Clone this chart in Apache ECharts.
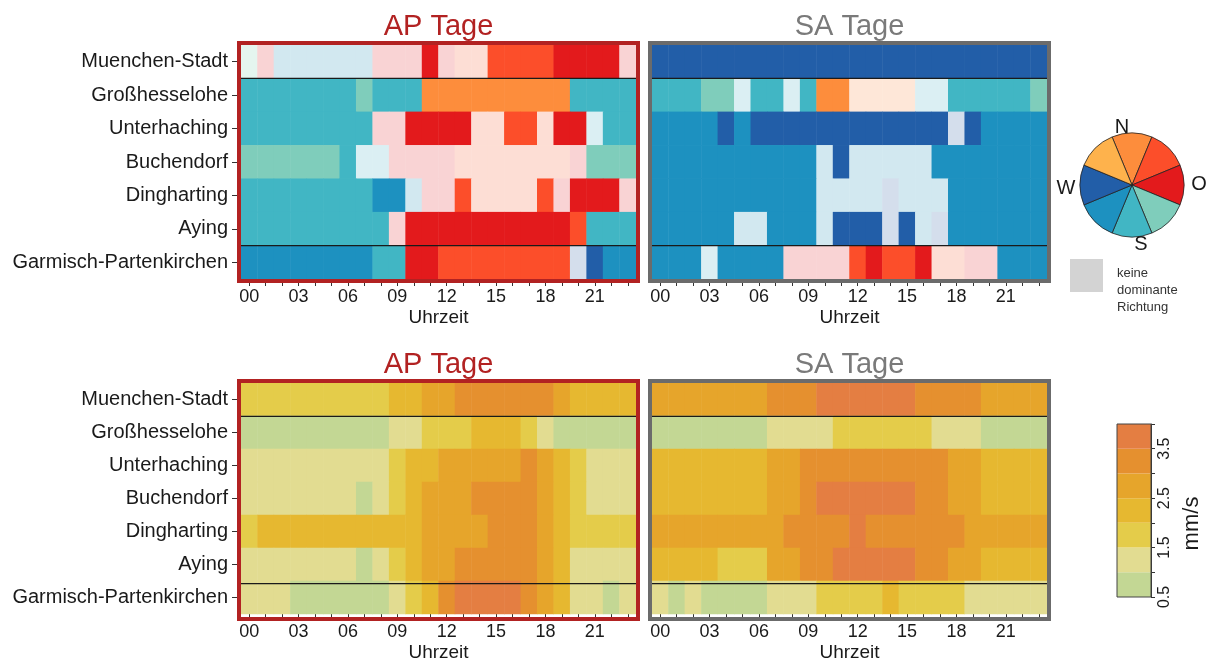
<!DOCTYPE html>
<html>
<head>
<meta charset="utf-8">
<script src="https://cdn.jsdelivr.net/npm/echarts@6/dist/echarts.min.js"></script>
<style>
  html, body { margin: 0; background: #fff; }
  #chart { width: 1206px; height: 663px; }
</style>
</head>
<body>
<div id="chart"></div>
<script>
// Stationen von oben nach unten
const stations = ['Muenchen-Stadt', 'Großhesselohe', 'Unterhaching', 'Buchendorf', 'Dingharting', 'Aying', 'Garmisch-Partenkirchen']
const hours = ['00', '01', '02', '03', '04', '05', '06', '07', '08', '09', '10', '11',
  '12', '13', '14', '15', '16', '17', '18', '19', '20', '21', '22', '23']

// Windrichtung: Großbuchstaben = dominante Richtung, klein = schwächere Ausprägung
const directionCodes = ['N', 'NO', 'O', 'SO', 'S', 'SW', 'W', 'NW', 'n', 'no', 'o', 'so', 's', 'sw', 'w']
const directionColors = ['#fd8d3c', '#fc4e2a', '#e31a1c', '#7fcdbb', '#41b6c4', '#1d91c0', '#225ea8', '#feb24c',
  '#fee7d8', '#fdded5', '#f9d3d4', '#e5f5ef', '#dbeff3', '#d2e8f0', '#d4deec']
const compassSectors = ['N', 'NO', 'O', 'SO', 'S', 'SW', 'W', 'NW']

const apDirection = [
  ['so', 'o', 'sw', 'sw', 'sw', 'sw', 'sw', 'sw', 'o', 'o', 'o', 'O', 'o', 'no', 'no', 'NO', 'NO', 'NO', 'NO', 'O', 'O', 'O', 'O', 'o'],
  ['S', 'S', 'S', 'S', 'S', 'S', 'S', 'SO', 'S', 'S', 'S', 'N', 'N', 'N', 'N', 'N', 'N', 'N', 'N', 'N', 'S', 'S', 'S', 'S'],
  ['S', 'S', 'S', 'S', 'S', 'S', 'S', 'S', 'o', 'o', 'O', 'O', 'O', 'O', 'no', 'no', 'NO', 'NO', 'no', 'O', 'O', 's', 'S', 'S'],
  ['SO', 'SO', 'SO', 'SO', 'SO', 'SO', 'S', 's', 's', 'o', 'o', 'o', 'o', 'no', 'no', 'no', 'no', 'no', 'no', 'no', 'o', 'SO', 'SO', 'SO'],
  ['S', 'S', 'S', 'S', 'S', 'S', 'S', 'S', 'SW', 'SW', 'sw', 'o', 'o', 'NO', 'no', 'no', 'no', 'no', 'NO', 'o', 'O', 'O', 'O', 'o'],
  ['S', 'S', 'S', 'S', 'S', 'S', 'S', 'S', 'S', 'o', 'O', 'O', 'O', 'O', 'O', 'O', 'O', 'O', 'O', 'O', 'NO', 'S', 'S', 'S'],
  ['SW', 'SW', 'SW', 'SW', 'SW', 'SW', 'SW', 'SW', 'S', 'S', 'O', 'O', 'NO', 'NO', 'NO', 'NO', 'NO', 'NO', 'NO', 'NO', 'w', 'W', 'SW', 'SW']
]
const saDirection = [
  ['W', 'W', 'W', 'W', 'W', 'W', 'W', 'W', 'W', 'W', 'W', 'W', 'W', 'W', 'W', 'W', 'W', 'W', 'W', 'W', 'W', 'W', 'W', 'W'],
  ['S', 'S', 'S', 'SO', 'SO', 's', 'S', 'S', 's', 'S', 'N', 'N', 'n', 'n', 'n', 'n', 's', 's', 'S', 'S', 'S', 'S', 'S', 'SO'],
  ['SW', 'SW', 'SW', 'SW', 'W', 'SW', 'W', 'W', 'W', 'W', 'W', 'W', 'W', 'W', 'W', 'W', 'W', 'W', 'w', 'W', 'SW', 'SW', 'SW', 'SW'],
  ['SW', 'SW', 'SW', 'SW', 'SW', 'SW', 'SW', 'SW', 'SW', 'SW', 'sw', 'W', 'sw', 'sw', 'sw', 'sw', 'sw', 'SW', 'SW', 'SW', 'SW', 'SW', 'SW', 'SW'],
  ['SW', 'SW', 'SW', 'SW', 'SW', 'SW', 'SW', 'SW', 'SW', 'SW', 'sw', 'sw', 'sw', 'sw', 'w', 'sw', 'sw', 'sw', 'SW', 'SW', 'SW', 'SW', 'SW', 'SW'],
  ['SW', 'SW', 'SW', 'SW', 'SW', 'sw', 'sw', 'SW', 'SW', 'SW', 'sw', 'W', 'W', 'W', 'w', 'W', 'sw', 'w', 'SW', 'SW', 'SW', 'SW', 'SW', 'SW'],
  ['SW', 'SW', 'SW', 's', 'SW', 'SW', 'SW', 'SW', 'o', 'o', 'o', 'o', 'NO', 'O', 'NO', 'NO', 'O', 'no', 'no', 'o', 'o', 'SW', 'SW', 'SW']
]

// Windgeschwindigkeit in mm/s (Klassenmitte)
const apSpeed = [
  [1.75, 1.75, 1.75, 1.75, 1.75, 1.75, 1.75, 1.75, 1.75, 2.25, 2.25, 2.75, 2.75, 3.25, 3.25, 3.25, 3.25, 3.25, 3.25, 2.75, 2.25, 2.25, 2.25, 2.25],
  [0.75, 0.75, 0.75, 0.75, 0.75, 0.75, 0.75, 0.75, 0.75, 1.25, 1.25, 1.75, 1.75, 1.75, 2.25, 2.25, 2.25, 1.75, 1.25, 0.75, 0.75, 0.75, 0.75, 0.75],
  [1.25, 1.25, 1.25, 1.25, 1.25, 1.25, 1.25, 1.25, 1.25, 1.75, 2.25, 2.25, 2.75, 2.75, 2.75, 2.75, 2.75, 3.25, 2.75, 2.25, 1.75, 1.25, 1.25, 1.25],
  [1.25, 1.25, 1.25, 1.25, 1.25, 1.25, 1.25, 0.75, 1.25, 1.75, 2.25, 2.75, 2.75, 2.75, 3.25, 3.25, 3.25, 3.25, 2.75, 2.25, 1.75, 1.25, 1.25, 1.25],
  [1.75, 2.25, 2.25, 2.25, 2.25, 2.25, 2.25, 2.25, 2.25, 2.25, 2.25, 2.75, 2.75, 2.75, 2.75, 3.25, 3.25, 3.25, 2.75, 2.25, 1.75, 1.75, 1.75, 1.75],
  [1.25, 1.25, 1.25, 1.25, 1.25, 1.25, 1.25, 0.75, 1.25, 1.75, 2.25, 2.75, 2.75, 3.25, 3.25, 3.25, 3.25, 3.25, 2.75, 2.25, 1.25, 1.25, 1.25, 1.25],
  [1.25, 1.25, 1.25, 0.75, 0.75, 0.75, 0.75, 0.75, 0.75, 1.25, 1.75, 2.25, 3.25, 3.75, 3.75, 3.75, 3.75, 3.25, 2.75, 2.25, 1.25, 1.25, 0.75, 1.25]
]
const saSpeed = [
  [2.75, 2.75, 2.75, 2.75, 2.75, 2.75, 2.75, 3.25, 3.25, 3.25, 3.75, 3.75, 3.75, 3.75, 3.75, 3.75, 3.25, 3.25, 3.25, 3.25, 2.75, 2.75, 2.75, 2.75],
  [0.75, 0.75, 0.75, 0.75, 0.75, 0.75, 0.75, 1.25, 1.25, 1.25, 1.25, 1.75, 1.75, 1.75, 1.75, 1.75, 1.75, 1.25, 1.25, 1.25, 0.75, 0.75, 0.75, 0.75],
  [2.25, 2.25, 2.25, 2.25, 2.25, 2.25, 2.25, 2.75, 2.75, 3.25, 3.25, 3.25, 3.25, 3.25, 3.25, 3.25, 3.25, 3.25, 2.75, 2.75, 2.25, 2.25, 2.25, 2.25],
  [2.25, 2.25, 2.25, 2.25, 2.25, 2.25, 2.25, 2.75, 2.75, 3.25, 3.75, 3.75, 3.75, 3.75, 3.75, 3.75, 3.25, 3.25, 2.75, 2.75, 2.25, 2.25, 2.25, 2.25],
  [2.75, 2.75, 2.75, 2.75, 2.75, 2.75, 2.75, 2.75, 3.25, 3.25, 3.25, 3.25, 3.75, 3.25, 3.25, 3.25, 3.25, 3.25, 3.25, 2.75, 2.75, 2.75, 2.75, 2.75],
  [2.25, 2.25, 2.25, 2.25, 1.75, 1.75, 1.75, 2.75, 2.75, 3.25, 3.25, 3.75, 3.75, 3.75, 3.75, 3.75, 3.25, 3.25, 2.75, 2.75, 2.25, 2.25, 2.25, 2.25],
  [1.25, 0.75, 1.25, 0.75, 0.75, 0.75, 0.75, 1.25, 1.25, 1.25, 1.75, 1.75, 1.75, 1.75, 2.25, 1.75, 1.75, 1.75, 1.75, 1.25, 1.25, 1.25, 1.25, 1.25]
]
const speedBreaks = [0.5, 1.0, 1.5, 2.0, 2.5, 3.0, 3.5, 4.0]
const speedColors = ['#c3d794', '#e2dc91', '#e4cc4a', '#e6b830', '#e6a52b', '#e5902f', '#e47e42']
const speedTickLabels = [0.5, 1.5, 2.5, 3.5]

// Layout
const FONT = 'Liberation Sans, Arial, Helvetica, sans-serif'
const TEXT = '#1a1a1a'
const panels = [
  { title: 'AP Tage', color: '#b22222', frame: '#b22222', left: 241, top: 45 },
  { title: 'SA Tage', color: '#7a7a7a', frame: '#6b6b6b', left: 652, top: 45 },
  { title: 'AP Tage', color: '#b22222', frame: '#b22222', left: 241, top: 383 },
  { title: 'SA Tage', color: '#7a7a7a', frame: '#6b6b6b', left: 652, top: 383 }
]
const PW = 395
const PH = 234
const pie = { cx: 1132, cy: 185, r: 52 }

const toCells = (rows, fn) => {
  const out = []
  rows.forEach((row, y) => row.forEach((v, x) => out.push([x, y, fn(v)])))
  return out
}
const dirIndex = code => directionCodes.indexOf(code)
const panelData = [
  toCells(apDirection, dirIndex),
  toCells(saDirection, dirIndex),
  toCells(apSpeed, v => v),
  toCells(saSpeed, v => v)
]

const chart = echarts.init(document.getElementById('chart'), null, { renderer: 'canvas' })

const grid = panels.map(p => ({ left: p.left, top: p.top, width: PW, height: PH }))
grid.push({ left: 1117, top: 424, width: 34, height: 173 })

const xAxis = panels.map((p, i) => ({
  type: 'category',
  gridIndex: i,
  data: hours,
  boundaryGap: true,
  axisLine: { show: false },
  axisTick: { show: true, interval: 0, alignWithLabel: true, length: 7, lineStyle: { color: '#333' } },
  axisLabel: { interval: 2, margin: 9, fontSize: 18, color: TEXT, fontFamily: FONT },
  splitLine: { show: false },
  name: 'Uhrzeit',
  nameLocation: 'middle',
  nameGap: 29,
  nameTextStyle: { fontSize: 19, color: TEXT, fontFamily: FONT }
}))
xAxis.push({ type: 'category', gridIndex: 4, data: ['mm/s'], show: false })

const yAxis = panels.map((p, i) => ({
  type: 'category',
  gridIndex: i,
  data: stations,
  inverse: true,
  axisLine: { show: false },
  axisTick: { show: i % 2 === 0, alignWithLabel: true, length: 9, lineStyle: { color: '#333' } },
  axisLabel: { show: i % 2 === 0, margin: 13, fontSize: 20, color: TEXT, fontFamily: FONT },
  splitLine: { show: false }
}))
yAxis.push({
  type: 'value',
  gridIndex: 4,
  position: 'right',
  min: 0.5,
  max: 4,
  interval: 0.5,
  axisLine: { show: true, lineStyle: { color: '#333', width: 1 } },
  axisTick: { show: true, length: 4, lineStyle: { color: '#333' } },
  splitLine: { show: false },
  axisLabel: {
    rotate: 90,
    margin: 6,
    fontSize: 16,
    color: TEXT,
    fontFamily: FONT,
    formatter: v => speedTickLabels.includes(v) ? v.toFixed(1) : ''
  },
  name: 'mm/s',
  nameLocation: 'middle',
  nameRotate: 90,
  nameGap: 30,
  nameTextStyle: { fontSize: 22, color: TEXT, fontFamily: FONT, padding: [0, 26, 0, 0] }
})

const series = panelData.map((data, i) => ({
  type: 'heatmap',
  xAxisIndex: i,
  yAxisIndex: i,
  data: data,
  itemStyle: { borderWidth: 0 },
  emphasis: { disabled: true },
  silent: true
}))

// Farbskala als gestapelte Balken
series.push({
  type: 'bar', xAxisIndex: 4, yAxisIndex: 4, stack: 'scale', data: [speedBreaks[0]],
  barWidth: '100%', itemStyle: { color: 'rgba(0,0,0,0)' }, silent: true
})
speedColors.forEach((c, k) => {
  series.push({
    type: 'bar', xAxisIndex: 4, yAxisIndex: 4, stack: 'scale',
    data: [+(speedBreaks[k + 1] - speedBreaks[k]).toFixed(2)],
    barWidth: '100%', itemStyle: { color: c }, silent: true
  })
})

// Windrose
series.push({
  type: 'pie',
  center: [pie.cx, pie.cy],
  radius: pie.r,
  startAngle: 112.5,
  clockwise: true,
  silent: true,
  label: { show: false },
  labelLine: { show: false },
  itemStyle: { borderColor: '#222', borderWidth: 0.8 },
  data: compassSectors.map(code => ({
    name: code, value: 1, itemStyle: { color: directionColors[dirIndex(code)] }
  }))
})

const graphic = []
panels.forEach(p => {
  graphic.push({
    type: 'rect', z: 100, silent: true,
    shape: { x: p.left - 2, y: p.top - 2, width: PW + 4, height: PH + 4 },
    style: { fill: 'none', stroke: p.frame, lineWidth: 4 }
  })
  const rowH = PH / stations.length
  ;[1, 6].forEach(r => {
    graphic.push({
      type: 'line', z: 99, silent: true,
      shape: { x1: p.left - 3, y1: p.top + rowH * r, x2: p.left + PW + 3, y2: p.top + rowH * r },
      style: { stroke: '#1a1a1a', lineWidth: 1.2 }
    })
  })
})
const compassText = [
  { t: 'N', x: 1122, y: 127 },
  { t: 'O', x: 1199, y: 184 },
  { t: 'S', x: 1141, y: 244 },
  { t: 'W', x: 1066, y: 188 }
]
compassText.forEach(c => {
  graphic.push({
    type: 'text', z: 100, silent: true, x: c.x, y: c.y,
    style: { text: c.t, fontSize: 20, fill: TEXT, fontFamily: FONT, align: 'center', verticalAlign: 'middle' }
  })
})
graphic.push({
  type: 'rect', silent: true,
  shape: { x: 1070, y: 259, width: 33, height: 33 },
  style: { fill: '#d3d3d3' }
})
graphic.push({
  type: 'text', silent: true, x: 1117, y: 265,
  style: { text: 'keine\ndominante\nRichtung', fontSize: 13, lineHeight: 17, fill: '#333', fontFamily: FONT }
})
graphic.push({
  type: 'rect', z: 100, silent: true,
  shape: { x: 1117, y: 424, width: 34, height: 173 },
  style: { fill: 'none', stroke: '#444', lineWidth: 1 }
})

const option = {
  backgroundColor: '#fff',
  animation: false,
  textStyle: { fontFamily: FONT },
  title: panels.map(p => ({
    text: p.title,
    left: p.left + PW / 2,
    top: p.top - 33,
    textAlign: 'center',
    padding: 0,
    textStyle: { fontSize: 29, fontWeight: 'normal', color: p.color, fontFamily: FONT }
  })),
  grid: grid,
  xAxis: xAxis,
  yAxis: yAxis,
  visualMap: [
    {
      type: 'piecewise', show: false, seriesIndex: [0, 1], dimension: 2,
      pieces: directionColors.map((c, k) => ({ value: k, color: c }))
    },
    {
      type: 'piecewise', show: false, seriesIndex: [2, 3], dimension: 2,
      pieces: speedColors.map((c, k) => ({ gte: speedBreaks[k], lt: speedBreaks[k + 1], color: c }))
    }
  ],
  series: series,
  graphic: graphic
}

chart.setOption(option)
window.addEventListener('resize', () => chart.resize())
</script>
</body>
</html>
